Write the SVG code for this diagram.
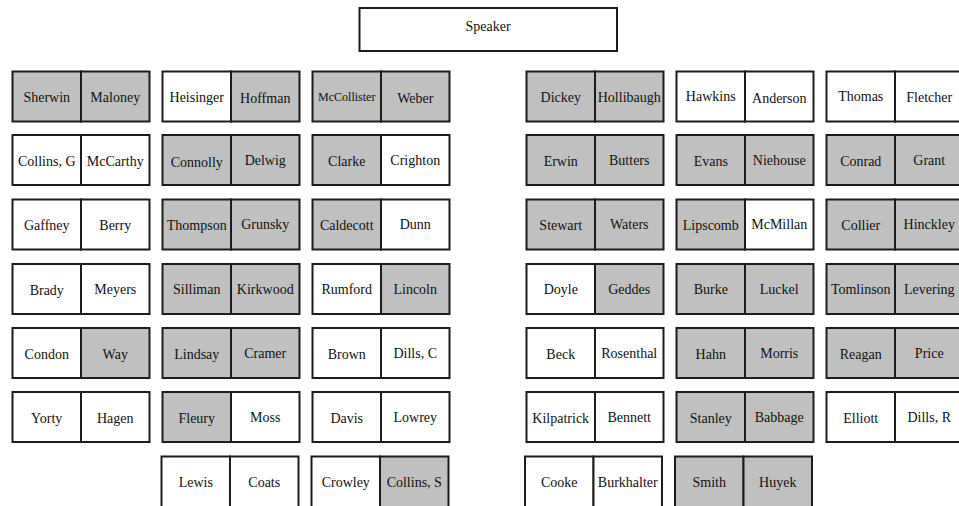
<svg xmlns="http://www.w3.org/2000/svg" width="959" height="506" viewBox="0 0 959 506">
<style>
.g,.w{stroke:#1c1c1c;stroke-width:2}
.g{fill:#c0c0c0}
.w{fill:#ffffff}
text{font-family:"Liberation Serif","Times New Roman",Times,serif;font-size:14px;fill:#111;text-anchor:middle}
.s{font-size:12px}
</style>
<rect x="0" y="0" width="959" height="506" fill="#ffffff"/>
<g id="speaker"><rect class="w" x="359.5" y="8" width="257.5" height="43"/><text x="488" y="31">Speaker</text></g>

<g id="r1c1" transform="translate(12.5,71.5)"><rect class="g" x="0" y="0" width="68.5" height="50"/><rect class="g" x="68.5" y="0" width="68.5" height="50"/><text x="34.25" y="30.5">Sherwin</text><text x="102.75" y="30.5">Maloney</text></g>
<g id="r1c2" transform="translate(162.5,71.5)"><rect class="w" x="0" y="0" width="68.5" height="50"/><rect class="g" x="68.5" y="0" width="68.5" height="50"/><text x="34.25" y="30">Heisinger</text><text x="102.75" y="31">Hoffman</text></g>
<g id="r1c3" transform="translate(312.5,71.5)"><rect class="g" x="0" y="0" width="68.5" height="50"/><rect class="g" x="68.5" y="0" width="68.5" height="50"/><text class="s" x="34.25" y="29">McCollister</text><text x="102.75" y="31">Weber</text></g>
<g id="r1c4" transform="translate(526.5,71.5)"><rect class="g" x="0" y="0" width="68.5" height="50"/><rect class="g" x="68.5" y="0" width="68.5" height="50"/><text x="34.25" y="30">Dickey</text><text x="102.75" y="30.5">Hollibaugh</text></g>
<g id="r1c5" transform="translate(676.5,71.5)"><rect class="w" x="0" y="0" width="68.5" height="50"/><rect class="w" x="68.5" y="0" width="68.5" height="50"/><text x="34.25" y="29.5">Hawkins</text><text x="102.75" y="31">Anderson</text></g>
<g id="r1c6" transform="translate(826.5,71.5)"><rect class="w" x="0" y="0" width="68.5" height="50"/><rect class="w" x="68.5" y="0" width="68.5" height="50"/><text x="34.25" y="29.5">Thomas</text><text x="102.75" y="30.5">Fletcher</text></g>

<g id="r2c1" transform="translate(12.5,135)"><rect class="w" x="0" y="0" width="68.5" height="50"/><rect class="w" x="68.5" y="0" width="68.5" height="50"/><text x="34.25" y="31">Collins, G</text><text x="102.75" y="31">McCarthy</text></g>
<g id="r2c2" transform="translate(162.5,135)"><rect class="g" x="0" y="0" width="68.5" height="50"/><rect class="g" x="68.5" y="0" width="68.5" height="50"/><text x="34.25" y="31.5">Connolly</text><text x="102.75" y="30">Delwig</text></g>
<g id="r2c3" transform="translate(312.5,135)"><rect class="g" x="0" y="0" width="68.5" height="50"/><rect class="w" x="68.5" y="0" width="68.5" height="50"/><text x="34.25" y="31">Clarke</text><text x="102.75" y="30">Crighton</text></g>
<g id="r2c4" transform="translate(526.5,135)"><rect class="g" x="0" y="0" width="68.5" height="50"/><rect class="g" x="68.5" y="0" width="68.5" height="50"/><text x="34.25" y="31">Erwin</text><text x="102.75" y="30">Butters</text></g>
<g id="r2c5" transform="translate(676.5,135)"><rect class="g" x="0" y="0" width="68.5" height="50"/><rect class="g" x="68.5" y="0" width="68.5" height="50"/><text x="34.25" y="31">Evans</text><text x="102.75" y="30">Niehouse</text></g>
<g id="r2c6" transform="translate(826.5,135)"><rect class="g" x="0" y="0" width="68.5" height="50"/><rect class="g" x="68.5" y="0" width="68.5" height="50"/><text x="34.25" y="31">Conrad</text><text x="102.75" y="30">Grant</text></g>

<g id="r3c1" transform="translate(12.5,199.5)"><rect class="w" x="0" y="0" width="68.5" height="50"/><rect class="w" x="68.5" y="0" width="68.5" height="50"/><text x="34.25" y="30.5">Gaffney</text><text x="102.75" y="30.5">Berry</text></g>
<g id="r3c2" transform="translate(162.5,199.5)"><rect class="g" x="0" y="0" width="68.5" height="50"/><rect class="g" x="68.5" y="0" width="68.5" height="50"/><text x="34.25" y="30.5">Thompson</text><text x="102.75" y="29.5">Grunsky</text></g>
<g id="r3c3" transform="translate(312.5,199.5)"><rect class="g" x="0" y="0" width="68.5" height="50"/><rect class="w" x="68.5" y="0" width="68.5" height="50"/><text x="34.25" y="30.5">Caldecott</text><text x="102.75" y="29.5">Dunn</text></g>
<g id="r3c4" transform="translate(526.5,199.5)"><rect class="g" x="0" y="0" width="68.5" height="50"/><rect class="g" x="68.5" y="0" width="68.5" height="50"/><text x="34.25" y="30.5">Stewart</text><text x="102.75" y="29.5">Waters</text></g>
<g id="r3c5" transform="translate(676.5,199.5)"><rect class="g" x="0" y="0" width="68.5" height="50"/><rect class="w" x="68.5" y="0" width="68.5" height="50"/><text x="34.25" y="30.5">Lipscomb</text><text x="102.75" y="29.5">McMillan</text></g>
<g id="r3c6" transform="translate(826.5,199.5)"><rect class="g" x="0" y="0" width="68.5" height="50"/><rect class="g" x="68.5" y="0" width="68.5" height="50"/><text x="34.25" y="30.5">Collier</text><text x="102.75" y="29.5">Hinckley</text></g>

<g id="r4c1" transform="translate(12.5,264)"><rect class="w" x="0" y="0" width="68.5" height="50"/><rect class="w" x="68.5" y="0" width="68.5" height="50"/><text x="34.25" y="30.5">Brady</text><text x="102.75" y="30">Meyers</text></g>
<g id="r4c2" transform="translate(162.5,264)"><rect class="g" x="0" y="0" width="68.5" height="50"/><rect class="g" x="68.5" y="0" width="68.5" height="50"/><text x="34.25" y="30">Silliman</text><text x="102.75" y="30">Kirkwood</text></g>
<g id="r4c3" transform="translate(312.5,264)"><rect class="w" x="0" y="0" width="68.5" height="50"/><rect class="g" x="68.5" y="0" width="68.5" height="50"/><text x="34.25" y="30">Rumford</text><text x="102.75" y="30">Lincoln</text></g>
<g id="r4c4" transform="translate(526.5,264)"><rect class="w" x="0" y="0" width="68.5" height="50"/><rect class="g" x="68.5" y="0" width="68.5" height="50"/><text x="34.25" y="30">Doyle</text><text x="102.75" y="30">Geddes</text></g>
<g id="r4c5" transform="translate(676.5,264)"><rect class="g" x="0" y="0" width="68.5" height="50"/><rect class="g" x="68.5" y="0" width="68.5" height="50"/><text x="34.25" y="30">Burke</text><text x="102.75" y="30">Luckel</text></g>
<g id="r4c6" transform="translate(826.5,264)"><rect class="g" x="0" y="0" width="68.5" height="50"/><rect class="g" x="68.5" y="0" width="68.5" height="50"/><text x="34.25" y="30">Tomlinson</text><text x="102.75" y="30">Levering</text></g>

<g id="r5c1" transform="translate(12.5,328)"><rect class="w" x="0" y="0" width="68.5" height="50"/><rect class="g" x="68.5" y="0" width="68.5" height="50"/><text x="34.25" y="31">Condon</text><text x="102.75" y="31">Way</text></g>
<g id="r5c2" transform="translate(162.5,328)"><rect class="g" x="0" y="0" width="68.5" height="50"/><rect class="g" x="68.5" y="0" width="68.5" height="50"/><text x="34.25" y="31">Lindsay</text><text x="102.75" y="30">Cramer</text></g>
<g id="r5c3" transform="translate(312.5,328)"><rect class="w" x="0" y="0" width="68.5" height="50"/><rect class="w" x="68.5" y="0" width="68.5" height="50"/><text x="34.25" y="31">Brown</text><text x="102.75" y="30">Dills, C</text></g>
<g id="r5c4" transform="translate(526.5,328)"><rect class="w" x="0" y="0" width="68.5" height="50"/><rect class="w" x="68.5" y="0" width="68.5" height="50"/><text x="34.25" y="31">Beck</text><text x="102.75" y="30">Rosenthal</text></g>
<g id="r5c5" transform="translate(676.5,328)"><rect class="g" x="0" y="0" width="68.5" height="50"/><rect class="g" x="68.5" y="0" width="68.5" height="50"/><text x="34.25" y="31">Hahn</text><text x="102.75" y="30">Morris</text></g>
<g id="r5c6" transform="translate(826.5,328)"><rect class="g" x="0" y="0" width="68.5" height="50"/><rect class="g" x="68.5" y="0" width="68.5" height="50"/><text x="34.25" y="31">Reagan</text><text x="102.75" y="30">Price</text></g>

<g id="r6c1" transform="translate(12.5,392)"><rect class="w" x="0" y="0" width="68.5" height="50"/><rect class="w" x="68.5" y="0" width="68.5" height="50"/><text x="34.25" y="31">Yorty</text><text x="102.75" y="31">Hagen</text></g>
<g id="r6c2" transform="translate(162.5,392)"><rect class="g" x="0" y="0" width="68.5" height="50"/><rect class="w" x="68.5" y="0" width="68.5" height="50"/><text x="34.25" y="31">Fleury</text><text x="102.75" y="30">Moss</text></g>
<g id="r6c3" transform="translate(312.5,392)"><rect class="w" x="0" y="0" width="68.5" height="50"/><rect class="w" x="68.5" y="0" width="68.5" height="50"/><text x="34.25" y="31">Davis</text><text x="102.75" y="30">Lowrey</text></g>
<g id="r6c4" transform="translate(526.5,392)"><rect class="w" x="0" y="0" width="68.5" height="50"/><rect class="w" x="68.5" y="0" width="68.5" height="50"/><text x="34.25" y="31">Kilpatrick</text><text x="102.75" y="30">Bennett</text></g>
<g id="r6c5" transform="translate(676.5,392)"><rect class="g" x="0" y="0" width="68.5" height="50"/><rect class="g" x="68.5" y="0" width="68.5" height="50"/><text x="34.25" y="31">Stanley</text><text x="102.75" y="30">Babbage</text></g>
<g id="r6c6" transform="translate(826.5,392)"><rect class="w" x="0" y="0" width="68.5" height="50"/><rect class="w" x="68.5" y="0" width="68.5" height="50"/><text x="34.25" y="31">Elliott</text><text x="102.75" y="30">Dills, R</text></g>

<g id="r7c2" transform="translate(161.5,456.5)"><rect class="w" x="0" y="0" width="68.5" height="51"/><rect class="w" x="68.5" y="0" width="68.5" height="51"/><text x="34.25" y="30.5">Lewis</text><text x="102.75" y="30.5">Coats</text></g>
<g id="r7c3" transform="translate(311.5,456.5)"><rect class="w" x="0" y="0" width="68.5" height="51"/><rect class="g" x="68.5" y="0" width="68.5" height="51"/><text x="34.25" y="30.5">Crowley</text><text x="102.75" y="30.5">Collins, S</text></g>
<g id="r7c4" transform="translate(525,456.5)"><rect class="w" x="0" y="0" width="68.5" height="51"/><rect class="w" x="68.5" y="0" width="68.5" height="51"/><text x="34.25" y="30.5">Cooke</text><text x="102.75" y="30.5">Burkhalter</text></g>
<g id="r7c5" transform="translate(675,456.5)"><rect class="g" x="0" y="0" width="68.5" height="51"/><rect class="g" x="68.5" y="0" width="68.5" height="51"/><text x="34.25" y="30.5">Smith</text><text x="102.75" y="30.5">Huyek</text></g>
</svg>
